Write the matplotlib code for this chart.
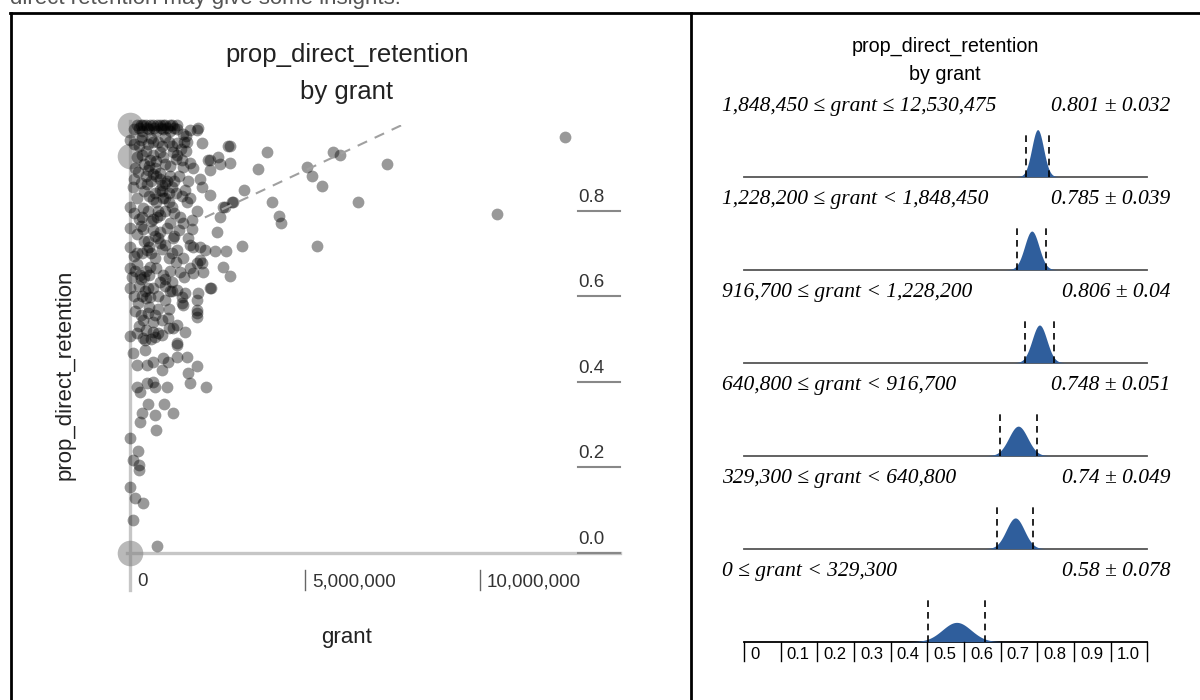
# -*- coding: utf-8 -*-
"""prop_direct_retention by grant: scatter + binned mean estimates."""
import matplotlib

matplotlib.use("Agg")
import matplotlib.pyplot as plt
import numpy as np
from matplotlib.lines import Line2D

W, H = 1200, 700

# scatter points: grant (thousands of $) and prop_direct_retention
grant_k = [
    2857, 3914, 3657, 5057, 5200, 5486, 5800, 6000, 7343, 6514, 4057, 4257, 4314,
    3257, 3200, 5343, 2943, 2486, 2429, 2743, 2857, 2657, 2314, 12428, 10486,
    2229, 2514, 2571, 2857, 1914, 2057, 2286, 2571, 2714, 2000, 2057, 1714, 2000,
    2143, 1914, 2057, 1943, 1914, 1914, 1914, 1571, 1229, 1343, 1086, 1486, 1571,
    1143, 1200,
    0, 86, 429, 429, 714, 657, 1343, 200, 486, 657, 943, 1086, 914, 1343, 1629,
    1914, 1657, 1714, 200, 286, 486, 714, 1057, 657, 2171, 514, 971, 343, 714,
    286, 1229, 743, 0, 229, 86, 257, 257, 0, 143, 371, 86, 771,
    0, 371, 857, 1229, 1771, 0, 486, 1000, 1343, 1800, 0, 286, 571, 943, 1429,
    1714, 2000, 2086, 0, 429, 571, 857, 1200, 1486, 2286, 229, 1514, 1914, 371,
    657, 1343, 371, 800,
    200, 371, 571, 771, 943, 1143, 1343, 257, 486, 686, 886, 1057, 1257, 1714,
    1943, 0, 343, 657, 1000, 1343, 1629, 200, 571, 857, 1229, 1486, 1714, 2286,
    2800, 229, 514, 857, 1143, 1514, 2286, 86, 486, 857, 1200, 1571, 0, 371, 657,
    1000, 1200, 1486, 1629, 343, 771, 1143, 1429, 1771, 2657, 2914,
    300, 450, 650, 850, 1000, 1200, 600, 750, 900, 1050, 700, 950, 800, 650, 1100,
    150, 300, 450, 350, 500, 200, 600, 400, 700, 900, 1100, 1300, 250, 450, 650,
    900, 1100, 1300, 400, 700, 1000, 500, 800, 1000, 250, 600,
    100, 350, 550, 750, 950, 1150, 1350, 1500, 1600,
    100, 300, 500, 600, 800, 1200, 1450, 1550,
    150, 350, 550, 750, 950, 1150, 1350, 1600, 1800,
    100, 300, 450, 650, 850, 1000, 1250, 1400, 1650,
    200, 400, 550, 750, 900, 1100, 1300, 1700,
    100, 250, 500, 600, 850, 1000, 1250, 1500, 1900,
    200, 300, 500, 650, 800, 1050, 1250, 1400, 1650,
    100, 350, 550, 700, 850, 1200, 1500,
    50, 200, 400, 550, 750, 1000, 1150, 1550, 1800,
    100, 250, 450, 650, 800, 1000, 1350,
    150, 300, 550, 700, 900, 1100,
    200, 450, 900, 1100,
]
prop = [
    0.950, 0.938, 0.898, 0.901, 0.880, 0.858, 0.938, 0.929, 0.910, 0.819, 0.819,
    0.788, 0.770, 0.849, 0.718, 0.718, 0.821, 0.749, 0.706, 0.706, 0.648, 0.669,
    0.618, 0.971, 0.791,
    0.919, 0.926, 0.908, 0.912, 0.989, 0.959, 0.837, 0.786, 0.809, 0.873, 0.854,
    0.720, 0.716, 0.709, 0.678, 0.678, 0.608, 0.592, 0.568, 0.552, 0.517, 0.526,
    0.487, 0.550, 0.585, 0.608, 0.611, 0.634,
    0.508, 0.468, 0.475, 0.498, 0.505, 0.517, 0.491, 0.440, 0.440, 0.447, 0.456,
    0.447, 0.428, 0.458, 0.458, 0.437, 0.421, 0.398, 0.388, 0.377, 0.398, 0.388,
    0.388, 0.400, 0.388, 0.349, 0.349, 0.327, 0.323, 0.306, 0.327, 0.288, 0.269,
    0.239, 0.218, 0.194, 0.206, 0.154, 0.129, 0.117, 0.077, 0.016,
    0.760, 0.756, 0.749, 0.737, 0.756, 0.716, 0.709, 0.720, 0.709, 0.716, 0.667,
    0.650, 0.669, 0.650, 0.657, 0.667, 0.685, 0.657, 0.620, 0.611, 0.599, 0.634,
    0.611, 0.599, 0.620, 0.585, 0.580, 0.561, 0.545, 0.540, 0.533, 0.503, 0.515,
    1.0, 1.0, 1.0, 1.0, 1.0, 1.0, 1.0, 0.994, 0.994, 0.994, 0.994, 0.994, 0.994,
    0.989, 0.994, 0.966, 0.971, 0.961, 0.973, 0.959, 0.961, 0.926, 0.919, 0.936,
    0.936, 0.919, 0.912, 0.919, 0.950, 0.891, 0.896, 0.889, 0.880, 0.901, 0.896,
    0.856, 0.861, 0.849, 0.856, 0.849, 0.809, 0.807, 0.826, 0.830, 0.809, 0.833,
    0.819, 0.786, 0.786, 0.772, 0.786, 0.779, 0.809, 0.821,
    1.0, 1.0, 1.0, 1.0, 1.0, 1.0, 0.87, 0.88, 0.86, 0.87, 0.84, 0.83, 0.80, 0.78,
    0.84, 0.66, 0.64, 0.66, 0.60, 0.62, 0.70, 0.70, 0.73, 0.74, 0.71, 0.69, 0.68,
    0.95, 0.94, 0.93, 0.95, 0.96, 0.92, 0.91, 0.90, 0.91, 0.56, 0.57, 0.59, 0.53,
    0.50,
    0.99, 0.985, 0.99, 0.985, 0.99, 0.985, 0.99, 0.98, 0.975,
    0.955, 0.965, 0.955, 0.97, 0.96, 0.95, 0.945, 0.96,
    0.90, 0.93, 0.905, 0.915, 0.925, 0.905, 0.93, 0.94, 0.90,
    0.875, 0.865, 0.88, 0.885, 0.875, 0.865, 0.87, 0.88, 0.87,
    0.83, 0.845, 0.835, 0.82, 0.845, 0.82, 0.84, 0.83,
    0.795, 0.78, 0.80, 0.775, 0.79, 0.80, 0.795, 0.77, 0.80,
    0.745, 0.765, 0.73, 0.755, 0.735, 0.76, 0.74, 0.755, 0.735,
    0.695, 0.70, 0.715, 0.69, 0.725, 0.70, 0.69,
    0.645, 0.675, 0.645, 0.65, 0.665, 0.64, 0.66, 0.645, 0.655,
    0.60, 0.625, 0.595, 0.62, 0.60, 0.625, 0.615,
    0.565, 0.555, 0.575, 0.555, 0.545, 0.57,
    0.515, 0.52, 0.51, 0.525,
]
# stacked points at grant 0 drawn as larger bubbles
bubble_grant_k = [0, 0, 0]
bubble_prop = [1.0, 0.928, 0.0]
# dashed trend line
fit_grant_k = [2140, 7770]
fit_prop = [0.784, 1.0]

x_ticks = [0, 5_000_000, 10_000_000]
x_tick_labels = ["0", "5,000,000", "10,000,000"]
y_ticks = [0.0, 0.2, 0.4, 0.6, 0.8]

bin_labels = [
    "1,848,450 ≤ grant ≤ 12,530,475",
    "1,228,200 ≤ grant < 1,848,450",
    "916,700 ≤ grant < 1,228,200",
    "640,800 ≤ grant < 916,700",
    "329,300 ≤ grant < 640,800",
    "0 ≤ grant < 329,300",
]
bin_mean = [0.801, 0.785, 0.806, 0.748, 0.74, 0.58]
bin_pm = [0.032, 0.039, 0.04, 0.051, 0.049, 0.078]
scale_ticks = [0, 0.1, 0.2, 0.3, 0.4, 0.5, 0.6, 0.7, 0.8, 0.9, 1.0]
scale_labels = ["0", "0.1", "0.2", "0.3", "0.4", "0.5", "0.6", "0.7", "0.8", "0.9", "1.0"]

SANS = "Liberation Sans"
SERIF = "Liberation Serif"
BLUE = "#2f5e9c"

fig = plt.figure(figsize=(12, 7), dpi=100)


def fx(px):
    return px / W


def fy(py):
    return 1 - py / H


# page text cut at the top and the table borders
fig.text(fx(10), fy(4), "direct retention may give some insights.", fontsize=16,
         color="#555555", family=SANS, va="baseline")
for xs, ys in [([10, 1200], [13, 13]), ([11, 11], [13, 700]), ([691, 691], [13, 700])]:
    fig.add_artist(Line2D([fx(x) for x in xs], [fy(y) for y in ys],
                          color="black", lw=2, transform=fig.transFigure))

# ---------------- left: scatter ----------------
ax = fig.add_axes([fx(130), fy(553), 490 / W, 428 / H])
ax.set_xlim(0, 14e6)
ax.set_ylim(0, 1)
ax.axis("off")
px_y = 1 / 428  # one pixel in prop units

ax.plot([0, 0], [-37 * px_y, 1.01], color="#c6c6c6", lw=2.4, clip_on=False, zorder=1)
ax.plot([-0.1e6, 14e6], [0, 0], color="#c6c6c6", lw=2.4, clip_on=False, zorder=1)

g = np.array(grant_k) * 1000
ax.scatter(g, prop, s=72, color="black", alpha=0.4, linewidths=0, zorder=3, clip_on=False)
ax.scatter(np.array(bubble_grant_k) * 1000, bubble_prop, s=340, color="#808080",
           alpha=0.55, linewidths=0, zorder=2, clip_on=False)
ax.plot(np.array(fit_grant_k) * 1000, fit_prop, ls=(0, (5, 4)), color="#a0a0a0", lw=1.5, zorder=4)

for t, lab in zip(x_ticks, x_tick_labels):
    if t > 0:
        ax.plot([t, t], [-17 * px_y, -37 * px_y], color="#666666", lw=1, clip_on=False)
    ax.annotate(lab, xy=(t, 0), xytext=(7, -29), textcoords="offset pixels",
                ha="left", va="center", fontsize=13.5, family=SANS, color="#333333")
for t in y_ticks:
    ax.plot([12.8e6, 14.0e6], [t, t], color="#888888", lw=1.5, clip_on=False)
    ax.annotate(f"{t:.1f}", xy=(12.8e6, t), xytext=(0, 5), textcoords="offset pixels",
                ha="left", va="bottom", fontsize=13.5, family=SANS, color="#333333")

fig.text(fx(347), fy(55), "prop_direct_retention", ha="center", va="center",
         fontsize=18.5, family=SANS, color="#222222")
fig.text(fx(347), fy(92), "by grant", ha="center", va="center",
         fontsize=18.5, family=SANS, color="#222222")
fig.text(fx(65), fy(375), "prop_direct_retention", rotation=90, ha="center", va="center",
         fontsize=16, family=SANS, color="#222222")
fig.text(fx(347), fy(637), "grant", ha="center", va="center",
         fontsize=16, family=SANS, color="#222222")

# ---------------- right: binned estimates ----------------
fig.text(fx(945), fy(46), "prop_direct_retention", ha="center", va="center",
         fontsize=14.2, family=SANS)
fig.text(fx(945), fy(74), "by grant", ha="center", va="center",
         fontsize=14.2, family=SANS)

PX_PER_UNIT = 366.6   # pixels per 1.0 on the estimate axis
PX_PER_DENS = 1.89    # pixels per unit of density
first_base, step = 176.7, 93.0
xs = np.linspace(0, 1.1, 600)
for i, (lab, m, pm) in enumerate(zip(bin_labels, bin_mean, bin_pm)):
    base = first_base + i * step
    rax = fig.add_axes([fx(744), fy(base), 1.1 * PX_PER_UNIT / W, 60 / H])
    rax.set_xlim(0, 1.1)
    rax.set_ylim(0, 60 / PX_PER_DENS)
    rax.axis("off")
    sd = pm / 2
    dens = np.exp(-0.5 * ((xs - m) / sd) ** 2) / (sd * np.sqrt(2 * np.pi))
    rax.fill_between(xs, 0, dens, color=BLUE, lw=0, zorder=2)
    rax.vlines([m - pm, m + pm], 0, 44 / PX_PER_DENS, colors="black",
               linestyles=(0, (4, 3)), lw=1.2, zorder=3)
    last = i == len(bin_labels) - 1
    rax.plot([0, 1.1], [0, 0], color="black" if last else "#555555", lw=1.3,
             clip_on=False, zorder=1)
    ty = 70 / PX_PER_DENS
    rax.text(-22 / PX_PER_UNIT, ty, lab, ha="left", va="center", fontsize=15.5,
             family=SERIF, style="italic", clip_on=False)
    rax.text(1.1 + 23 / PX_PER_UNIT, ty, f"{m:g} ± {pm:g}", ha="right", va="center",
             fontsize=15.5, family=SERIF, style="italic", clip_on=False)
    if last:
        edges = scale_ticks + [1.1]
        for e in edges:
            rax.plot([e, e], [0, -19 / PX_PER_DENS], color="black", lw=1,
                     clip_on=False)
        for t, tl in zip(scale_ticks, scale_labels):
            rax.text(t + 6 / PX_PER_UNIT, -13 / PX_PER_DENS, tl, ha="left",
                     va="center", fontsize=12, family=SANS, clip_on=False)

fig.savefig("out.png", dpi=100)
plt.close(fig)
